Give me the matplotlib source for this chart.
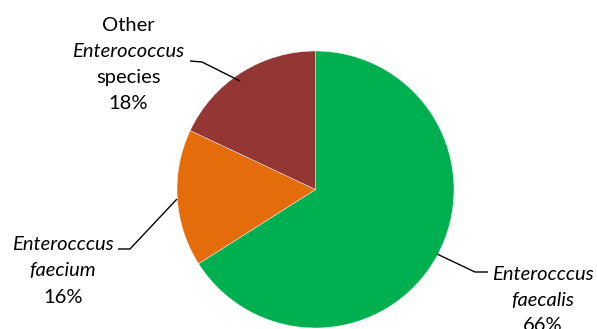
import matplotlib
matplotlib.use("Agg")
import matplotlib.pyplot as plt

# share of isolates per species (percent)
species = ["Enterocccus faecalis", "Enterocccus faecium", "Other Enterococcus species"]
shares = [66, 16, 18]
colors = ["#00B050", "#E46C0A", "#943634"]

W, H = 597, 329
plt.rcParams['font.family'] = ['Lato', 'DejaVu Sans']

fig = plt.figure(figsize=(W / 100, H / 100), dpi=100)
ax = fig.add_axes([0, 0, 1, 1])

# pie laid out in pixel units, y measured from the bottom
cx, cy, r = 315.5, H - 189.5, 138.5
ax.pie(shares, colors=colors, startangle=90, counterclock=False,
       center=(cx, cy), radius=r, frame=True,
       wedgeprops=dict(edgecolor="white", linewidth=0.3))
ax.set_xlim(0, W)
ax.set_ylim(0, H)
ax.axis("off")

# label blocks: (lines, center x, baselines from top, leader polyline from top)
labels = [
    ([("Enterocccus", "italic"), ("faecalis", "italic"), (f"{shares[0]}%", "normal")],
     543, [280, 305.5, 331], [(437, 254), (475, 272), (488, 272)]),
    ([("Enterocccus", "italic"), ("faecium", "italic"), (f"{shares[1]}%", "normal")],
     63, [250, 276.5, 303], [(177, 199), (130, 249), (118, 249)]),
    ([("Other", "normal"), ("Enterococcus", "italic"), ("species", "normal"), (f"{shares[2]}%", "normal")],
     128.5, [31, 57, 83, 109], [(240, 81), (202, 62), (190, 61)]),
]

for lines, x, baselines, leader in labels:
    for (txt, style), yb in zip(lines, baselines):
        ax.text(x, H - yb, txt, ha="center", va="baseline", fontsize=14.5,
                style=style, color="black")
    ax.plot([p[0] for p in leader], [H - p[1] for p in leader],
            color="black", lw=1.0, solid_capstyle="butt", zorder=5)

fig.savefig("out.png", dpi=100)
